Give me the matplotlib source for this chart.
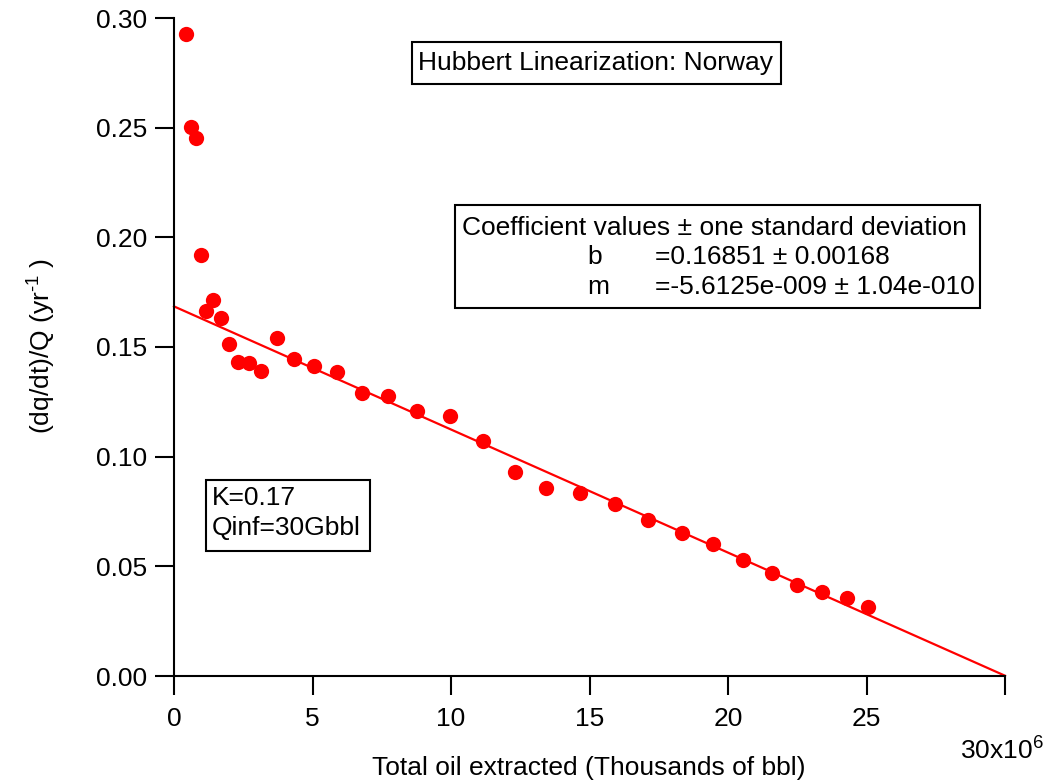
import numpy as np
from matplotlib import pyplot as plt
from matplotlib.patches import Rectangle

# cumulative production (millions of bbl, scaled by 1e6 below) and dq/dt / Q
cum_oil = [0.433, 0.614, 0.794, 0.975, 1.155, 1.408, 1.697, 1.986, 2.310, 2.708,
           3.141, 3.718, 4.332, 5.054, 5.884, 6.787, 7.726, 8.773, 9.964, 11.155,
           12.31, 13.43, 14.66, 15.92, 17.11, 18.34, 19.46, 20.54, 21.59, 22.49,
           23.39, 24.30, 25.05]
ratio = [0.2927, 0.2503, 0.2453, 0.1919, 0.1664, 0.1714, 0.1632, 0.1514, 0.1432, 0.1427,
         0.1391, 0.1541, 0.1445, 0.1413, 0.1386, 0.1290, 0.1277, 0.1208, 0.1185, 0.1071,
         0.0930, 0.0857, 0.0834, 0.0784, 0.0711, 0.0652, 0.0602, 0.0529, 0.0470, 0.0415,
         0.0383, 0.0356, 0.0315]

b_fit = 0.16851
m_fit = -5.6125e-9
fit_range = [0, 30e6]

xticks = [0, 5e6, 10e6, 15e6, 20e6, 25e6, 30e6]
xtick_labels = ['0', '5', '10', '15', '20', '25', '']
yticks = [0.0, 0.05, 0.10, 0.15, 0.20, 0.25, 0.30]

W, H = 1049, 784
plt.rcParams['font.family'] = ['Liberation Sans', 'DejaVu Sans']
plt.rcParams['mathtext.fontset'] = 'custom'
plt.rcParams['mathtext.rm'] = 'Liberation Sans'
fs = 19

fig = plt.figure(figsize=(W / 100, H / 100), dpi=100)
ax = fig.add_axes([174 / W, 1 - 676 / H, (1005 - 174) / W, (676 - 18) / H])


def px(x, y):
    # pixel coords (from top-left) to figure fraction
    return x / W, 1 - y / H


x = np.array(cum_oil) * 1e6
ax.plot(x, ratio, 'o', color='#ff0000', ms=11, mec='none', zorder=3)
fx = np.array(fit_range)
ax.plot(fx, b_fit + m_fit * fx, color='#ff0000', lw=1.6, zorder=2, clip_on=False)

ax.set_xlim(0, 30e6)
ax.set_ylim(0, 0.30)
ax.set_xticks(xticks)
ax.set_xticklabels(xtick_labels)
ax.set_yticks(yticks)
ax.set_yticklabels(['%.2f' % v for v in yticks])
for s in ['top', 'right']:
    ax.spines[s].set_visible(False)
for s in ['left', 'bottom']:
    ax.spines[s].set_linewidth(1.5)
ax.tick_params(direction='out', length=13.5, width=1.5, labelsize=fs)
ax.tick_params(axis='x', pad=9)
ax.tick_params(axis='y', pad=6)

ax.annotate('30x10$^{\\mathrm{6}}$', xy=(30e6, 0), xycoords='data', xytext=(-2, -43),
            textcoords='offset points', ha='center', va='top', fontsize=fs)

fig.text(*px(589, 768), 'Total oil extracted (Thousands of bbl)', ha='center', va='center', fontsize=fs)
fig.text(*px(41, 346), '(dq/dt)/Q (yr$^{\\text{-1}}$ )', ha='center', va='center', rotation=90, fontsize=fs)


def box(x0, y0, x1, y1):
    fig.patches.append(Rectangle(px(x0, y1), (x1 - x0) / W, (y1 - y0) / H,
                                 transform=fig.transFigure, fill=False,
                                 edgecolor='black', lw=1.5, zorder=5))


# title box
box(412, 42, 781, 84)
fig.text(*px(596, 63), 'Hubbert Linearization: Norway', ha='center', va='center', fontsize=fs)

# coefficient box
box(455, 205, 980, 308)
fig.text(*px(462, 228), 'Coefficient values \u00b1 one standard deviation', va='center', fontsize=fs)
fig.text(*px(587, 257), 'b', va='center', fontsize=fs)
fig.text(*px(655, 257), '=0.16851 \u00b1 0.00168', va='center', fontsize=fs)
fig.text(*px(587, 287), 'm', va='center', fontsize=fs)
fig.text(*px(655, 287), '=-5.6125e-009 \u00b1 1.04e-010', va='center', fontsize=fs)

# K box
box(206, 480, 370, 551)
fig.text(*px(212, 498), 'K=0.17', va='center', fontsize=fs)
fig.text(*px(212, 528), 'Qinf=30Gbbl', va='center', fontsize=fs)

fig.savefig('out.png', dpi=100)
